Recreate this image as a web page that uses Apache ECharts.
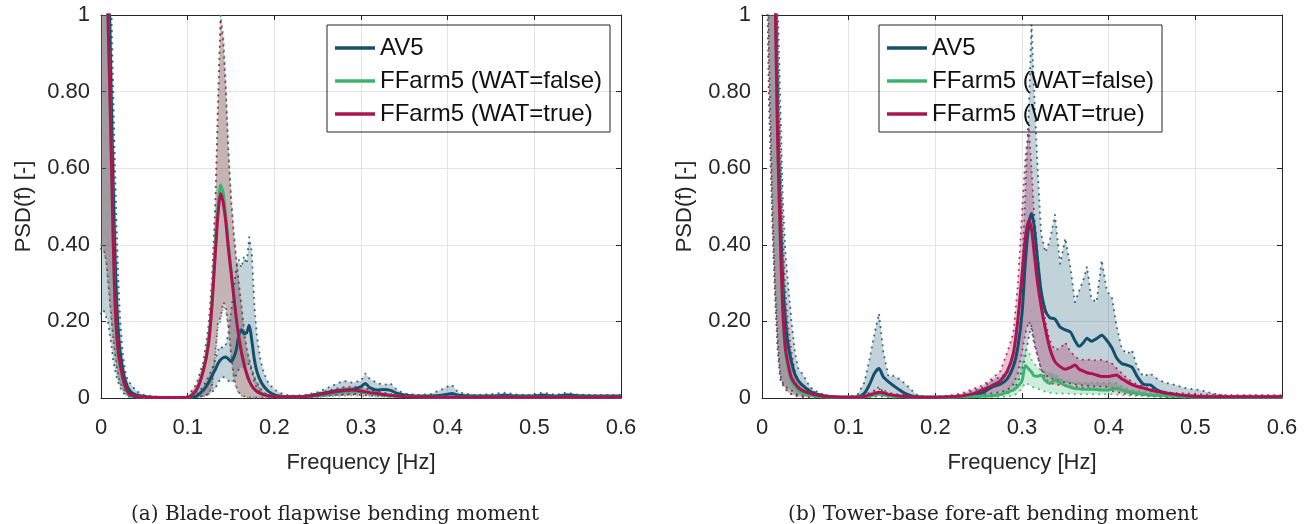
<!DOCTYPE html>
<html><head><meta charset="utf-8">
<script src="https://cdn.jsdelivr.net/npm/echarts@6/dist/echarts.min.js"></script>
<style>html,body{margin:0;padding:0;background:#fff}#c{width:1309px;height:524px}</style>
</head><body><div id="c"></div>
<script>
// ---------------- Panel (a): Blade-root flapwise bending moment ----------------
const freqA = [
 0, 0.003, 0.006, 0.008, 0.010, 0.012, 0.014, 0.016, 0.018, 0.020,
 0.022, 0.025, 0.028, 0.031, 0.035, 0.040, 0.045, 0.050, 0.060, 0.080,
 0.100, 0.110, 0.118, 0.124, 0.128, 0.132, 0.135, 0.138, 0.141, 0.144,
 0.147, 0.150, 0.153, 0.156, 0.159, 0.162, 0.165, 0.168, 0.171, 0.174,
 0.177, 0.180, 0.184, 0.188, 0.193, 0.200, 0.210, 0.220, 0.235, 0.250,
 0.260, 0.270, 0.280, 0.290, 0.300, 0.305, 0.310, 0.318, 0.326, 0.334,
 0.342, 0.350, 0.365, 0.380, 0.393, 0.400, 0.405, 0.412, 0.430, 0.450,
 0.466, 0.480, 0.495, 0.510, 0.525, 0.537, 0.550, 0.570, 0.600];
const av5MeanA = [
 3.5, 2.5, 1.6, 1.2, 0.98, 0.76, 0.56, 0.38, 0.25, 0.17,
 0.12, 0.075, 0.045, 0.027, 0.015, 0.009, 0.006, 0.004, 0.002, 0.001,
 0.001, 0.005, 0.02, 0.04, 0.058, 0.075, 0.09, 0.1, 0.105, 0.107,
 0.102, 0.095, 0.105, 0.125, 0.165, 0.178, 0.168, 0.17, 0.19, 0.15,
 0.1, 0.068, 0.045, 0.03, 0.018, 0.008, 0.004, 0.003, 0.004, 0.01,
 0.014, 0.018, 0.021, 0.022, 0.03, 0.038, 0.027, 0.021, 0.022, 0.02,
 0.012, 0.008, 0.005, 0.005, 0.007, 0.01, 0.012, 0.007, 0.005, 0.005,
 0.007, 0.005, 0.005, 0.007, 0.005, 0.008, 0.006, 0.005, 0.005];
const av5HiA = [
 4, 3, 2, 1.6, 1.25, 1.02, 0.82, 0.62, 0.45, 0.31,
 0.21, 0.12, 0.07, 0.045, 0.035, 0.02, 0.012, 0.008, 0.004, 0.003,
 0.003, 0.008, 0.03, 0.055, 0.075, 0.1, 0.125, 0.135, 0.13, 0.14,
 0.17, 0.22, 0.28, 0.34, 0.36, 0.34, 0.37, 0.35, 0.42, 0.38,
 0.24, 0.16, 0.1, 0.065, 0.04, 0.022, 0.01, 0.006, 0.008, 0.015,
 0.025, 0.035, 0.045, 0.04, 0.045, 0.064, 0.05, 0.04, 0.034, 0.038,
 0.02, 0.012, 0.008, 0.01, 0.022, 0.03, 0.034, 0.015, 0.008, 0.01,
 0.014, 0.009, 0.008, 0.014, 0.008, 0.014, 0.009, 0.008, 0.008];
const av5LoA = [
 0.22, 0.23, 0.21, 0.2, 0.17, 0.14, 0.1, 0.075, 0.055, 0.04,
 0.028, 0.015, 0.008, 0.004, 0.002, 0.001, 0.001, 0.001, 0.001, 0.001,
 0.001, 0.002, 0.005, 0.01, 0.015, 0.025, 0.04, 0.05, 0.055, 0.05,
 0.045, 0.04, 0.045, 0.06, 0.075, 0.08, 0.08, 0.085, 0.09, 0.07,
 0.04, 0.025, 0.015, 0.008, 0.004, 0.002, 0.001, 0.001, 0.002, 0.004,
 0.006, 0.008, 0.009, 0.01, 0.012, 0.014, 0.01, 0.008, 0.009, 0.007,
 0.005, 0.003, 0.002, 0.002, 0.002, 0.003, 0.003, 0.002, 0.002, 0.002,
 0.002, 0.002, 0.002, 0.002, 0.002, 0.002, 0.002, 0.002, 0.002];
const wfMeanA = [
 3.0, 2.0, 1.3, 1.0, 0.81, 0.61, 0.41, 0.25, 0.16, 0.11,
 0.08, 0.05, 0.027, 0.014, 0.007, 0.004, 0.003, 0.002, 0.001, 0.001,
 0.002, 0.02, 0.072, 0.145, 0.25, 0.4, 0.5, 0.556, 0.535, 0.475,
 0.4, 0.335, 0.27, 0.21, 0.16, 0.12, 0.09, 0.064, 0.045, 0.032,
 0.023, 0.017, 0.012, 0.008, 0.006, 0.004, 0.003, 0.003, 0.004, 0.007,
 0.01, 0.013, 0.016, 0.018, 0.016, 0.014, 0.012, 0.01, 0.008, 0.006,
 0.005, 0.004, 0.003, 0.002, 0.002, 0.002, 0.002, 0.002, 0.002, 0.002,
 0.002, 0.002, 0.002, 0.002, 0.002, 0.002, 0.002, 0.002, 0.002];
const wfHiA = [
 4, 3, 2, 1.5, 1.15, 0.9, 0.66, 0.46, 0.31, 0.21,
 0.15, 0.09, 0.052, 0.03, 0.015, 0.008, 0.005, 0.004, 0.003, 0.002,
 0.004, 0.035, 0.095, 0.19, 0.31, 0.52, 0.78, 1.0, 0.95, 0.82,
 0.65, 0.53, 0.44, 0.37, 0.3, 0.24, 0.18, 0.13, 0.1, 0.075,
 0.055, 0.04, 0.025, 0.014, 0.008, 0.005, 0.004, 0.004, 0.006, 0.011,
 0.016, 0.021, 0.025, 0.027, 0.025, 0.023, 0.02, 0.016, 0.012, 0.009,
 0.007, 0.005, 0.004, 0.004, 0.004, 0.004, 0.004, 0.004, 0.004, 0.004,
 0.004, 0.004, 0.004, 0.004, 0.004, 0.004, 0.004, 0.004, 0.004];
const wfLoA = [
 0.4, 0.39, 0.35, 0.3, 0.25, 0.2, 0.15, 0.11, 0.08, 0.052,
 0.036, 0.024, 0.013, 0.006, 0.002, 0.001, 0.001, 0.001, 0.001, 0.001,
 0.001, 0.002, 0.004, 0.008, 0.025, 0.11, 0.19, 0.2, 0.24, 0.23,
 0.18, 0.11, 0.055, 0.025, 0.012, 0.006, 0.003, 0.002, 0.001, 0.001,
 0.001, 0.001, 0.001, 0.001, 0.001, 0.001, 0.001, 0.001, 0.001, 0.002,
 0.004, 0.005, 0.006, 0.007, 0.006, 0.005, 0.005, 0.004, 0.003, 0.002,
 0.002, 0.001, 0.001, 0.001, 0.001, 0.001, 0.001, 0.001, 0.001, 0.001,
 0.001, 0.001, 0.001, 0.001, 0.001, 0.001, 0.001, 0.001, 0.001];
const wtMeanA = [
 3.0, 2.0, 1.3, 1.0, 0.82, 0.62, 0.42, 0.26, 0.17, 0.12,
 0.09, 0.055, 0.03, 0.016, 0.008, 0.004, 0.003, 0.002, 0.001, 0.001,
 0.002, 0.02, 0.07, 0.14, 0.24, 0.38, 0.48, 0.534, 0.51, 0.46,
 0.39, 0.33, 0.27, 0.21, 0.16, 0.12, 0.09, 0.064, 0.045, 0.032,
 0.023, 0.017, 0.012, 0.008, 0.006, 0.004, 0.003, 0.003, 0.004, 0.008,
 0.012, 0.016, 0.019, 0.021, 0.018, 0.016, 0.014, 0.012, 0.009, 0.007,
 0.005, 0.004, 0.003, 0.002, 0.002, 0.002, 0.002, 0.002, 0.002, 0.002,
 0.002, 0.002, 0.002, 0.002, 0.002, 0.002, 0.002, 0.002, 0.002];
const wtHiA = [
 4, 3, 2, 1.5, 1.15, 0.9, 0.65, 0.45, 0.3, 0.2,
 0.14, 0.085, 0.05, 0.03, 0.015, 0.008, 0.005, 0.004, 0.003, 0.002,
 0.004, 0.035, 0.09, 0.18, 0.3, 0.5, 0.76, 0.99, 0.93, 0.8,
 0.64, 0.52, 0.43, 0.36, 0.3, 0.24, 0.18, 0.13, 0.1, 0.075,
 0.055, 0.04, 0.025, 0.014, 0.008, 0.005, 0.004, 0.004, 0.006, 0.012,
 0.018, 0.024, 0.028, 0.03, 0.028, 0.026, 0.022, 0.018, 0.014, 0.01,
 0.008, 0.006, 0.004, 0.004, 0.004, 0.004, 0.004, 0.004, 0.004, 0.004,
 0.004, 0.004, 0.004, 0.004, 0.004, 0.004, 0.004, 0.004, 0.004];
const wtLoA = [
 0.39, 0.39, 0.36, 0.31, 0.26, 0.21, 0.16, 0.12, 0.085, 0.056,
 0.04, 0.028, 0.016, 0.008, 0.003, 0.001, 0.001, 0.001, 0.001, 0.001,
 0.001, 0.002, 0.005, 0.01, 0.03, 0.12, 0.2, 0.21, 0.25, 0.24,
 0.19, 0.12, 0.06, 0.03, 0.015, 0.008, 0.004, 0.002, 0.001, 0.001,
 0.001, 0.001, 0.001, 0.001, 0.001, 0.001, 0.001, 0.001, 0.001, 0.003,
 0.005, 0.007, 0.008, 0.009, 0.008, 0.007, 0.006, 0.005, 0.004, 0.003,
 0.002, 0.001, 0.001, 0.001, 0.001, 0.001, 0.001, 0.001, 0.001, 0.001,
 0.001, 0.001, 0.001, 0.001, 0.001, 0.001, 0.001, 0.001, 0.001];

// ---------------- Panel (b): Tower-base fore-aft bending moment ----------------
const freqB = [
 0, 0.004, 0.008, 0.012, 0.015, 0.018, 0.021, 0.024, 0.027, 0.030,
 0.034, 0.038, 0.042, 0.046, 0.050, 0.055, 0.060, 0.070, 0.080, 0.090,
 0.100, 0.110, 0.118, 0.124, 0.130, 0.135, 0.140, 0.146, 0.152, 0.158,
 0.165, 0.172, 0.180, 0.190, 0.200, 0.215, 0.230, 0.245, 0.255, 0.265,
 0.275, 0.283, 0.290, 0.295, 0.300, 0.304, 0.308, 0.311, 0.314, 0.318,
 0.322, 0.327, 0.332, 0.338, 0.344, 0.350, 0.356, 0.361, 0.366, 0.371,
 0.375, 0.380, 0.386, 0.392, 0.398, 0.404, 0.409, 0.415, 0.421, 0.427,
 0.433, 0.440, 0.448, 0.456, 0.465, 0.475, 0.490, 0.505, 0.520, 0.535,
 0.550, 0.575, 0.600];
const av5MeanB = [
 5, 3.6, 2.4, 1.6, 1.15, 0.74, 0.48, 0.3, 0.2, 0.14,
 0.095, 0.062, 0.045, 0.035, 0.027, 0.018, 0.012, 0.006, 0.003, 0.002,
 0.002, 0.003, 0.012, 0.035, 0.065, 0.077, 0.055, 0.042, 0.032, 0.022,
 0.012, 0.006, 0.003, 0.002, 0.002, 0.002, 0.004, 0.008, 0.014, 0.028,
 0.036, 0.05, 0.082, 0.13, 0.22, 0.36, 0.455, 0.482, 0.45, 0.36,
 0.28, 0.228, 0.21, 0.206, 0.185, 0.178, 0.172, 0.15, 0.135, 0.145,
 0.156, 0.148, 0.155, 0.164, 0.15, 0.13, 0.105, 0.09, 0.086, 0.08,
 0.056, 0.036, 0.034, 0.021, 0.014, 0.01, 0.005, 0.003, 0.002, 0.002,
 0.002, 0.002, 0.002];
const av5HiB = [
 6, 4.5, 3, 2, 1.5, 1.05, 0.78, 0.52, 0.38, 0.3,
 0.2, 0.12, 0.075, 0.065, 0.05, 0.03, 0.02, 0.01, 0.005, 0.004,
 0.004, 0.008, 0.04, 0.1, 0.17, 0.221, 0.12, 0.056, 0.058, 0.05,
 0.038, 0.022, 0.006, 0.003, 0.003, 0.004, 0.008, 0.02, 0.028, 0.045,
 0.055, 0.066, 0.117, 0.2, 0.33, 0.54, 0.76, 0.975, 0.8, 0.6,
 0.43, 0.38, 0.41, 0.478, 0.35, 0.417, 0.34, 0.25, 0.28, 0.31,
 0.343, 0.26, 0.25, 0.36, 0.28, 0.26, 0.19, 0.13, 0.115, 0.125,
 0.08, 0.056, 0.064, 0.05, 0.04, 0.035, 0.025, 0.021, 0.012, 0.006,
 0.004, 0.003, 0.003];
const av5LoB = [
 3, 1.6, 0.92, 0.5, 0.3, 0.16, 0.06, 0.04, 0.03, 0.025,
 0.02, 0.012, 0.008, 0.006, 0.005, 0.004, 0.003, 0.002, 0.001, 0.001,
 0.001, 0.001, 0.001, 0.005, 0.015, 0.03, 0.015, 0.01, 0.008, 0.006,
 0.004, 0.002, 0.001, 0.001, 0.001, 0.001, 0.001, 0.002, 0.004, 0.006,
 0.008, 0.012, 0.02, 0.04, 0.07, 0.11, 0.16, 0.19, 0.15, 0.11,
 0.075, 0.06, 0.052, 0.05, 0.045, 0.04, 0.038, 0.036, 0.034, 0.033,
 0.032, 0.031, 0.03, 0.03, 0.029, 0.026, 0.024, 0.02, 0.017, 0.014,
 0.011, 0.009, 0.007, 0.005, 0.004, 0.003, 0.002, 0.001, 0.001, 0.001,
 0.001, 0.001, 0.001];
const wfMeanB = [
 5, 3.5, 2.3, 1.5, 1.07, 0.67, 0.42, 0.22, 0.12, 0.08,
 0.045, 0.03, 0.02, 0.014, 0.01, 0.007, 0.005, 0.003, 0.002, 0.002,
 0.002, 0.002, 0.003, 0.005, 0.008, 0.01, 0.008, 0.006, 0.004, 0.003,
 0.003, 0.002, 0.002, 0.002, 0.002, 0.002, 0.003, 0.004, 0.005, 0.006,
 0.009, 0.015, 0.021, 0.03, 0.045, 0.085, 0.075, 0.068, 0.058, 0.057,
 0.06, 0.045, 0.038, 0.047, 0.04, 0.033, 0.028, 0.025, 0.024, 0.023,
 0.023, 0.023, 0.022, 0.021, 0.021, 0.023, 0.025, 0.021, 0.017, 0.014,
 0.012, 0.01, 0.008, 0.007, 0.006, 0.005, 0.003, 0.002, 0.002, 0.002,
 0.002, 0.002, 0.002];
const wfHiB = [
 5.3, 3.8, 2.6, 1.7, 1.25, 0.88, 0.6, 0.38, 0.24, 0.16,
 0.1, 0.06, 0.04, 0.03, 0.024, 0.018, 0.013, 0.007, 0.004, 0.003,
 0.003, 0.004, 0.006, 0.01, 0.014, 0.018, 0.015, 0.01, 0.008, 0.006,
 0.005, 0.004, 0.003, 0.003, 0.003, 0.004, 0.006, 0.008, 0.01, 0.012,
 0.015, 0.022, 0.04, 0.06, 0.09, 0.125, 0.12, 0.1, 0.09, 0.08,
 0.073, 0.068, 0.065, 0.06, 0.05, 0.045, 0.042, 0.04, 0.04, 0.04,
 0.04, 0.04, 0.04, 0.04, 0.04, 0.04, 0.038, 0.03, 0.025, 0.02,
 0.018, 0.016, 0.012, 0.01, 0.008, 0.006, 0.004, 0.003, 0.003, 0.003,
 0.003, 0.003, 0.003];
const wfLoB = [
 2.5, 1.4, 0.78, 0.45, 0.27, 0.13, 0.05, 0.035, 0.025, 0.015,
 0.01, 0.006, 0.004, 0.003, 0.002, 0.002, 0.001, 0.001, 0.001, 0.001,
 0.001, 0.001, 0.001, 0.002, 0.003, 0.004, 0.003, 0.002, 0.001, 0.001,
 0.001, 0.001, 0.001, 0.001, 0.001, 0.001, 0.001, 0.001, 0.002, 0.002,
 0.003, 0.004, 0.006, 0.012, 0.025, 0.04, 0.035, 0.03, 0.027, 0.025,
 0.02, 0.016, 0.014, 0.012, 0.012, 0.011, 0.011, 0.01, 0.01, 0.01,
 0.01, 0.01, 0.01, 0.01, 0.01, 0.01, 0.009, 0.008, 0.007, 0.006,
 0.005, 0.005, 0.004, 0.003, 0.002, 0.002, 0.001, 0.001, 0.001, 0.001,
 0.001, 0.001, 0.001];
const wtMeanB = [
 5, 3.5, 2.3, 1.5, 1.08, 0.68, 0.43, 0.23, 0.13, 0.09,
 0.052, 0.038, 0.027, 0.02, 0.016, 0.012, 0.009, 0.005, 0.003, 0.002,
 0.002, 0.002, 0.004, 0.008, 0.012, 0.015, 0.013, 0.009, 0.007, 0.005,
 0.004, 0.003, 0.002, 0.002, 0.002, 0.003, 0.005, 0.012, 0.022, 0.032,
 0.045, 0.07, 0.117, 0.2, 0.32, 0.42, 0.465, 0.44, 0.38, 0.3,
 0.24, 0.18, 0.13, 0.095, 0.082, 0.075, 0.08, 0.086, 0.075, 0.07,
 0.066, 0.064, 0.06, 0.056, 0.056, 0.058, 0.06, 0.05, 0.042, 0.035,
 0.03, 0.026, 0.021, 0.017, 0.013, 0.01, 0.006, 0.004, 0.003, 0.003,
 0.003, 0.003, 0.003];
const wtHiB = [
 5.5, 4, 2.7, 1.8, 1.3, 0.92, 0.65, 0.42, 0.28, 0.19,
 0.12, 0.07, 0.045, 0.035, 0.03, 0.022, 0.016, 0.009, 0.005, 0.004,
 0.004, 0.005, 0.008, 0.014, 0.02, 0.024, 0.02, 0.014, 0.011, 0.009,
 0.007, 0.005, 0.004, 0.004, 0.004, 0.006, 0.012, 0.025, 0.034, 0.05,
 0.07, 0.12, 0.169, 0.29, 0.48, 0.63, 0.7, 0.6, 0.48, 0.38,
 0.28, 0.2, 0.15, 0.125, 0.13, 0.145, 0.12, 0.11, 0.1, 0.1,
 0.1, 0.1, 0.098, 0.1, 0.095, 0.09, 0.078, 0.065, 0.052, 0.042,
 0.035, 0.03, 0.025, 0.02, 0.016, 0.013, 0.012, 0.01, 0.009, 0.008,
 0.008, 0.008, 0.008];
const wtLoB = [
 2.5, 1.4, 0.78, 0.45, 0.27, 0.13, 0.05, 0.035, 0.025, 0.015,
 0.01, 0.006, 0.004, 0.003, 0.002, 0.002, 0.002, 0.001, 0.001, 0.001,
 0.001, 0.001, 0.002, 0.003, 0.005, 0.006, 0.005, 0.003, 0.002, 0.002,
 0.001, 0.001, 0.001, 0.001, 0.001, 0.001, 0.002, 0.004, 0.008, 0.012,
 0.016, 0.02, 0.035, 0.064, 0.12, 0.17, 0.2, 0.18, 0.14, 0.11,
 0.075, 0.05, 0.04, 0.035, 0.034, 0.032, 0.03, 0.03, 0.028, 0.027,
 0.026, 0.025, 0.024, 0.022, 0.02, 0.018, 0.016, 0.013, 0.011, 0.009,
 0.008, 0.007, 0.005, 0.004, 0.003, 0.002, 0.002, 0.002, 0.002, 0.002,
 0.002, 0.002, 0.002];

const seriesNames = ['AV5', 'FFarm5 (WAT=false)', 'FFarm5 (WAT=true)'];
const xTicks = ['0', '0.1', '0.2', '0.3', '0.4', '0.5', '0.6'];
const yTicks = ['0', '0.20', '0.40', '0.60', '0.80', '1'];
const captions = ['(a) Blade-root flapwise bending moment', '(b) Tower-base fore-aft bending moment'];

// sanity check
[[freqA,[av5MeanA,av5HiA,av5LoA,wfMeanA,wfHiA,wfLoA,wtMeanA,wtHiA,wtLoA]],
 [freqB,[av5MeanB,av5HiB,av5LoB,wfMeanB,wfHiB,wfLoB,wtMeanB,wtHiB,wtLoB]]].forEach(([f, arrs], p) => {
  arrs.forEach((a, k) => { if (a.length !== f.length) throw new Error('length mismatch panel ' + p + ' arr ' + k + ': ' + a.length + ' vs ' + f.length); });
});

const COL = ['#14506e', '#3cb46e', '#aa1450'];
const FONT = 'Liberation Sans';
function rgba(hex, a) {
  const n = parseInt(hex.slice(1), 16);
  return 'rgba(' + (n >> 16) + ',' + ((n >> 8) & 255) + ',' + (n & 255) + ',' + a + ')';
}
const pairs = (f, v) => f.map((x, i) => [x, v[i]]);

function bandFill(f, lo, hi, color, ai) {
  return {
    type: 'custom', xAxisIndex: ai, yAxisIndex: ai, silent: true, z: 1, clip: true,
    data: [[f[0], lo[0]]],
    renderItem: function (params, api) {
      const pts = [];
      for (let i = 0; i < f.length; i++) pts.push(api.coord([f[i], hi[i]]));
      for (let i = f.length - 1; i >= 0; i--) pts.push(api.coord([f[i], lo[i]]));
      const cs = params.coordSys;
      return {
        type: 'polygon', shape: { points: pts },
        style: { fill: rgba(color, 0.26), stroke: null },
        clipPath: { type: 'rect', shape: { x: cs.x, y: cs.y, width: cs.width, height: cs.height } }
      };
    }
  };
}
function dotted(f, v, color, ai) {
  return {
    type: 'line', xAxisIndex: ai, yAxisIndex: ai, silent: true, z: 2,
    data: pairs(f, v), showSymbol: false, symbol: 'none', smooth: false,
    lineStyle: { color: color, width: 2, type: [0.1, 6], cap: 'round', opacity: 0.85 }
  };
}
function meanLine(name, f, v, color, ai) {
  return {
    type: 'line', name: name, xAxisIndex: ai, yAxisIndex: ai, z: 3,
    data: pairs(f, v), showSymbol: false, symbol: 'none', smooth: 0.25,
    color: color, itemStyle: { color: color },
    lineStyle: { color: color, width: 3 }
  };
}

const panels = [
  { f: freqA, d: [[av5MeanA, av5LoA, av5HiA], [wfMeanA, wfLoA, wfHiA], [wtMeanA, wtLoA, wtHiA]] },
  { f: freqB, d: [[av5MeanB, av5LoB, av5HiB], [wfMeanB, wfLoB, wfHiB], [wtMeanB, wtLoB, wtHiB]] }
];

const series = [];
panels.forEach((p, ai) => {
  p.d.forEach((s, k) => series.push(bandFill(p.f, s[1], s[2], COL[k], ai)));
  p.d.forEach((s, k) => { series.push(dotted(p.f, s[1], COL[k], ai)); series.push(dotted(p.f, s[2], COL[k], ai)); });
  p.d.forEach((s, k) => series.push(meanLine(seriesNames[k], p.f, s[0], COL[k], ai)));
});

const AXC = '#262626';
const lbl = { fontFamily: FONT, fontSize: 22, color: AXC };
const xAxes = [], yAxes = [];
[0, 1].forEach(g => {
  xAxes.push({
    type: 'value', gridIndex: g, min: 0, max: 0.6, interval: 0.1, position: 'bottom',
    axisLine: { show: true, onZero: false, lineStyle: { color: AXC, width: 1 } },
    axisTick: { show: true, inside: true, length: 5, lineStyle: { color: AXC } },
    axisLabel: Object.assign({ margin: 19, formatter: v => xTicks[Math.round(v * 10)] }, lbl),
    splitLine: { show: true, lineStyle: { color: '#e4e4e4', width: 1 } },
    name: 'Frequency [Hz]', nameLocation: 'middle', nameGap: 54,
    nameTextStyle: Object.assign({}, lbl)
  });
  yAxes.push({
    type: 'value', gridIndex: g, min: 0, max: 1, interval: 0.2, position: 'left',
    axisLine: { show: true, onZero: false, lineStyle: { color: AXC, width: 1 } },
    axisTick: { show: true, inside: true, length: 5, lineStyle: { color: AXC } },
    axisLabel: Object.assign({ margin: 11, formatter: v => yTicks[Math.round(v * 5)] }, lbl),
    splitLine: { show: true, lineStyle: { color: '#e4e4e4', width: 1 } },
    name: 'PSD(f) [-]', nameLocation: 'middle', nameGap: 66, nameRotate: 90,
    nameTextStyle: Object.assign({}, lbl)
  });
});
// mirror axes (top/right) for the box ticks
[0, 1].forEach(g => {
  xAxes.push({
    type: 'value', gridIndex: g, min: 0, max: 0.6, interval: 0.1, position: 'top',
    axisLine: { show: true, onZero: false, lineStyle: { color: AXC, width: 1 } },
    axisTick: { show: true, inside: true, length: 5, lineStyle: { color: AXC } },
    axisLabel: { show: false }, splitLine: { show: false }
  });
  yAxes.push({
    type: 'value', gridIndex: g, min: 0, max: 1, interval: 0.2, position: 'right',
    axisLine: { show: true, onZero: false, lineStyle: { color: AXC, width: 1 } },
    axisTick: { show: true, inside: true, length: 5, lineStyle: { color: AXC } },
    axisLabel: { show: false }, splitLine: { show: false }
  });
});

function legendAt(left) {
  return {
    data: seriesNames, orient: 'vertical', left: left, top: 25,
    icon: 'rect', itemWidth: 40, itemHeight: 3.5, itemGap: 5,
    padding: [9, 8, 4, 8], borderColor: AXC, borderWidth: 1, borderRadius: 0,
    backgroundColor: 'rgba(255,255,255,0)', selectedMode: false,
    textStyle: { fontFamily: FONT, fontSize: 24, color: '#111', lineHeight: 28 }
  };
}

const chart = echarts.init(document.getElementById('c'), null, { renderer: 'canvas' });
chart.setOption({
  animation: false,
  backgroundColor: '#fff',
  grid: [
    { left: 101, top: 15, width: 520, height: 383 },
    { left: 762, top: 15, width: 520, height: 383 }
  ],
  xAxis: xAxes,
  yAxis: yAxes,
  legend: [legendAt(327), legendAt(879)],
  title: [
    { text: captions[0], left: 330, top: 500, textAlign: 'center',
      textStyle: { fontFamily: 'DejaVu Serif', fontSize: 20, fontWeight: 'normal', color: '#222' } },
    { text: captions[1], left: 988, top: 500, textAlign: 'center',
      textStyle: { fontFamily: 'DejaVu Serif', fontSize: 20, fontWeight: 'normal', color: '#222' } }
  ],
  series: series
});
</script>
</body></html>
